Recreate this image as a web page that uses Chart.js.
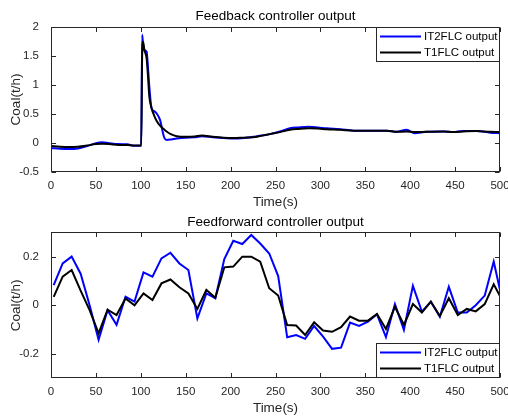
<!DOCTYPE html>
<html>
<head>
<meta charset="utf-8">
<script src="https://cdn.jsdelivr.net/npm/chart.js@4/dist/chart.umd.min.js"></script>
<style>
  html, body { margin: 0; padding: 0; background: #fff; overflow: hidden; }
  .box { position: absolute; left: 0; width: 508px; height: 209px; }
</style>
</head>
<body>
<div class="box" style="top:0"><canvas id="fb"></canvas></div>
<div class="box" style="top:209px"><canvas id="ff"></canvas></div>
<script>
// --- data: feedback controller output (top) ---
const fbTime = [0, 10, 20, 30, 40, 50, 57, 65, 75, 85, 92,
  100.5, 101.5, 102.5, 104, 106.5, 108, 109.5, 112, 115, 117.7, 121.4, 125.8, 128.8, 134, 140,
  150, 160, 168, 180, 192, 203, 215, 225, 235, 245, 255, 266, 276, 287, 297, 307, 322, 337, 355,
  374, 385, 396, 405, 418, 437, 448, 459, 474, 489, 500];
const fbIT2 = [-0.085, -0.095, -0.1, -0.09, -0.05, 0.0, 0.015, 0.0, -0.015, -0.02, -0.045,
  -0.045, 1.86, 1.7, 1.6, 1.57, 1.3, 0.97, 0.6, 0.55, 0.51, 0.4, 0.11, 0.055, 0.065, 0.08,
  0.095, 0.1, 0.12, 0.1, 0.09, 0.08, 0.09, 0.11, 0.13, 0.16, 0.2, 0.255, 0.27, 0.28, 0.27, 0.255, 0.24, 0.215, 0.215,
  0.215, 0.195, 0.23, 0.17, 0.195, 0.2, 0.19, 0.21, 0.21, 0.18, 0.17];
const fbT1 = [-0.048, -0.06, -0.066, -0.06, -0.04, -0.015, -0.01, -0.015, -0.03, -0.03, -0.04,
  -0.04, 1.5, 1.74, 1.6, 1.45, 1.15, 0.8, 0.6, 0.47, 0.38, 0.3, 0.24, 0.2, 0.15, 0.12,
  0.11, 0.115, 0.13, 0.11, 0.095, 0.09, 0.095, 0.1, 0.13, 0.16, 0.19, 0.23, 0.245, 0.255, 0.25, 0.24, 0.23, 0.215, 0.215,
  0.215, 0.195, 0.2, 0.19, 0.195, 0.2, 0.19, 0.2, 0.21, 0.195, 0.19];

// --- data: feedforward controller output (bottom) ---
const ffTime = [3, 13, 23, 33, 43, 53, 63, 73, 83, 93, 103, 113, 123, 133, 143, 153, 163, 173, 183, 193,
  203, 213, 223, 233, 243, 253, 263, 273, 283, 293, 303, 313, 323, 333, 343, 353, 363, 373, 383, 393,
  403, 413, 423, 433, 443, 453, 463, 473, 483, 493, 500];
const ffIT2 = [0.083, 0.172, 0.2, 0.13, 0.0, -0.142, -0.02, -0.08, 0.035, 0.015, 0.135, 0.118, 0.193, 0.216, 0.172, 0.145, -0.054, 0.049, 0.029, 0.19,
  0.265, 0.252, 0.289, 0.254, 0.213, 0.12, -0.131, -0.122, -0.138, -0.085, -0.129, -0.179, -0.174, -0.071, -0.085, -0.067, -0.037, -0.131, 0.005, -0.101,
  0.08, -0.026, 0.015, -0.047, 0.076, -0.03, -0.03, 0.0, 0.04, 0.18, 0.063];
const ffT1 = [0.035, 0.118, 0.145, 0.06, -0.02, -0.115, -0.018, -0.04, 0.028, 0.0, 0.049, 0.022, 0.09, 0.106, 0.074, 0.049, -0.015, 0.063, 0.031, 0.156,
  0.159, 0.2, 0.2, 0.179, 0.07, 0.04, -0.081, -0.083, -0.122, -0.07, -0.104, -0.109, -0.09, -0.046, -0.063, -0.063, -0.036, -0.097, -0.006, -0.081,
  0.005, -0.03, 0.015, -0.044, 0.029, -0.04, -0.015, -0.025, 0.005, 0.086, 0.038];

// --- ticks / labels ---
const timeTicks = [0, 50, 100, 150, 200, 250, 300, 350, 400, 450, 500];
const fbYTicks = [-0.5, 0, 0.5, 1, 1.5, 2];
const ffYTicks = [-0.2, 0, 0.2];
const seriesNames = ["IT2FLC output", "T1FLC output"];

const FONT = '"Liberation Sans", Arial, Helvetica, sans-serif';
const AXIS = "#262626";
const BLUE = "#0000ff";
const BLACK = "#000000";

const toXY = (xs, ys) => xs.map((x, i) => ({ x: x, y: ys[i] }));
// MATLAB пишет 2, 1, 0 без ".0"
const fmt = (v) => String(Math.round(v * 100) / 100);

// рамка, внутренние тики, заголовки и легенда в стиле MATLAB
function matlabPlugin(title, legendPos) {
  return {
    id: "matlab",
    afterDraw(chart) {
      const { ctx, chartArea: a, scales } = chart;
      const L = Math.round(a.left) + 0.5, R = Math.round(a.right) - 0.5;
      const T = Math.round(a.top) + 0.5, B = Math.round(a.bottom) - 0.5;
      ctx.save();
      ctx.strokeStyle = AXIS;
      ctx.lineWidth = 1;
      ctx.strokeRect(L, T, R - L, B - T);

      const tl = 4.5;
      ctx.beginPath();
      scales.x.ticks.forEach((t) => {
        const px = Math.round(scales.x.getPixelForValue(t.value)) + 0.5;
        ctx.moveTo(px, B); ctx.lineTo(px, B - tl);
        ctx.moveTo(px, T); ctx.lineTo(px, T + tl);
      });
      scales.y.ticks.forEach((t) => {
        const py = Math.round(scales.y.getPixelForValue(t.value)) + 0.5;
        ctx.moveTo(L, py); ctx.lineTo(L + tl, py);
        ctx.moveTo(R, py); ctx.lineTo(R - tl, py);
      });
      ctx.stroke();

      // заголовок
      ctx.fillStyle = "#000";
      ctx.font = "13.5px " + FONT;
      ctx.textAlign = "center";
      ctx.textBaseline = "alphabetic";
      ctx.fillText(title, (a.left + a.right) / 2, a.top - 6.5);

      // подписи осей
      ctx.fillStyle = AXIS;
      ctx.textBaseline = "middle";
      ctx.fillText("Time(s)", (a.left + a.right) / 2, a.bottom + 30);
      ctx.save();
      ctx.translate(16, (a.top + a.bottom) / 2);
      ctx.rotate(-Math.PI / 2);
      ctx.fillText("Coal(t/h)", 0, 0);
      ctx.restore();

      // легенда
      const lw = 124, lh = 35;
      const lx = Math.round(a.right) - lw;
      const ly = legendPos === "top" ? Math.round(a.top) : Math.round(a.bottom) - lh;
      ctx.fillStyle = "#fff";
      ctx.fillRect(lx, ly, lw, lh);
      ctx.strokeStyle = AXIS;
      ctx.strokeRect(lx + 0.5, ly + 0.5, lw - 1, lh - 1);
      const colors = [BLUE, BLACK];
      ctx.font = "11.5px " + FONT;
      ctx.textAlign = "left";
      seriesNames.forEach((name, i) => {
        const yy = ly + 9.5 + i * 16;
        ctx.strokeStyle = colors[i];
        ctx.lineWidth = 2;
        ctx.beginPath();
        ctx.moveTo(lx + 4, yy);
        ctx.lineTo(lx + 45, yy);
        ctx.stroke();
        ctx.fillStyle = "#000";
        ctx.fillText(name, lx + 48, yy);
      });
      ctx.restore();
    },
  };
}

function makeChart(id, time, it2, t1, yTicks, yMin, yMax, title, legendPos, smooth) {
  const canvas = document.getElementById(id);
  const H = 209;
  const areaTop = legendPos === "top" ? 26.7 : 23.3;
  const areaBottom = legendPos === "top" ? 172.3 : 169.3;
  const line = (data, color, order) => ({
    data: data,
    borderColor: color,
    backgroundColor: color,
    borderWidth: 2,
    pointRadius: 0,
    pointHoverRadius: 0,
    fill: false,
    order: order,
    cubicInterpolationMode: smooth ? "monotone" : "default",
    tension: 0,
  });
  return new Chart(canvas, {
    type: "line",
    data: {
      datasets: [
        line(toXY(time, it2), BLUE, 1),
        line(toXY(time, t1), BLACK, 0),
      ],
    },
    options: {
      responsive: true,
      maintainAspectRatio: false,
      animation: false,
      layout: { padding: { top: areaTop, right: 8, left: 0, bottom: 0 } },
      plugins: { legend: { display: false }, tooltip: { enabled: false }, title: { display: false } },
      scales: {
        x: {
          type: "linear",
          min: 0,
          max: 500,
          grid: { display: false },
          border: { display: false },
          afterBuildTicks: (s) => { s.ticks = timeTicks.map((v) => ({ value: v })); },
          afterFit: (s) => { s.height = H - areaBottom; s.paddingLeft = 0; s.paddingRight = 0; },
          ticks: { color: AXIS, font: { family: FONT, size: 11.5 }, padding: -1, maxRotation: 0, autoSkip: false, callback: fmt },
        },
        y: {
          min: yMin,
          max: yMax,
          grid: { display: false },
          border: { display: false },
          afterBuildTicks: (s) => { s.ticks = yTicks.map((v) => ({ value: v })); },
          afterFit: (s) => { s.width = 51; s.paddingTop = 0; s.paddingBottom = 0; },
          ticks: { color: AXIS, font: { family: FONT, size: 11.5 }, padding: 4, callback: fmt },
        },
      },
    },
    plugins: [matlabPlugin(title, legendPos)],
  });
}

makeChart("fb", fbTime, fbIT2, fbT1, fbYTicks, -0.5, 2, "Feedback controller output", "top", true);
makeChart("ff", ffTime, ffIT2, ffT1, ffYTicks, -0.3, 0.3, "Feedforward controller output", "bottom", false);
</script>
</body>
</html>
